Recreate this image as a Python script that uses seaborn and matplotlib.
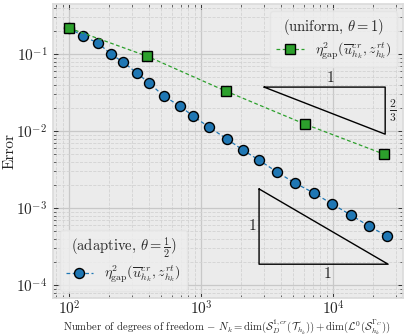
import numpy as np
import pandas as pd
import matplotlib
matplotlib.use("Agg")
import matplotlib.pyplot as plt
import seaborn as sns
from matplotlib.lines import Line2D

# ---- data ----
uniform_dofs = [100, 390, 1545, 6140, 24300]
uniform_err = [0.218, 0.094, 0.033, 0.0123, 0.00502]

adaptive_dofs = [100, 128, 166, 208, 257, 327, 404, 524, 693, 870, 1150, 1574,
                 2080, 2750, 3765, 5154, 7178, 9830, 13690, 18740, 25660]
adaptive_err = [0.218, 0.171, 0.139, 0.100, 0.0787, 0.0567, 0.0420, 0.0285,
                0.0211, 0.01567, 0.01127, 0.00787, 0.00567, 0.00420, 0.00294,
                0.00211, 0.00157, 0.00113, 0.000811, 0.000583, 0.000432]

# slope triangles (annotation guides)
tri_upper_x = [3000, 24800]
tri_upper_ytop = 0.0373
tri_upper_slope = 2 / 3
tri_lower_x = [2750, 26100]
tri_lower_ybot = 1.87e-4
tri_lower_slope = 1

sns.set_theme(style="darkgrid")
plt.rcParams.update({
    "font.family": ["cmr10", "DejaVu Serif"],
    "mathtext.fontset": "cm",
    "axes.unicode_minus": False,
    "axes.formatter.use_mathtext": True,
    "axes.facecolor": "#ebebeb",
    "axes.edgecolor": "#dcdcdc",
    "figure.facecolor": "white",
})

fig = plt.figure(figsize=(4.08, 3.36), dpi=100)
ax = fig.add_axes([0.130, 0.113, 0.858, 0.875])

df_u = pd.DataFrame({"N": uniform_dofs, "err": uniform_err})
df_a = pd.DataFrame({"N": adaptive_dofs, "err": adaptive_err})

blue = "#1f77b4"
green = "#2ca02c"
ms = 7.2
dash = (0, (3, 2))

sns.lineplot(data=df_a, x="N", y="err", ax=ax, sort=False, color=blue,
             linestyle=dash, linewidth=0.9, marker="o", markersize=ms,
             markeredgecolor="black", markeredgewidth=1.0, zorder=3)
sns.lineplot(data=df_u, x="N", y="err", ax=ax, sort=False, color=green,
             linestyle=dash, linewidth=0.9, marker="s", markersize=ms,
             markeredgecolor="black", markeredgewidth=1.0, zorder=4)

ax.set_xscale("log")
ax.set_yscale("log")
ax.set_xlim(75.7, 33900)
ax.set_ylim(6.8e-5, 0.447)

ax.grid(which="major", color="#c8c8c8", linestyle="-", linewidth=0.9)
ax.grid(which="minor", color="#d2d2d2", linestyle="--", linewidth=0.6)
ax.minorticks_on()
ax.tick_params(which="both", direction="in", top=True, right=True,
               bottom=True, left=True, color="#333333")
ax.tick_params(which="major", length=3.5, width=0.7, labelsize=11)
ax.tick_params(axis="x", which="major", pad=1.0)
ax.tick_params(axis="y", which="major", pad=4)
ax.tick_params(which="minor", length=2, width=0.5)

# slope triangles
x0, x1 = tri_upper_x
ybot = tri_upper_ytop * (x0 / x1) ** tri_upper_slope
ax.plot([x0, x1, x1, x0], [tri_upper_ytop, tri_upper_ytop, ybot, tri_upper_ytop],
        color="black", linewidth=1.0, zorder=2)
ax.text(np.sqrt(x0 * x1) * 1.1, tri_upper_ytop * 1.08, "1", ha="center", va="bottom", fontsize=11)
ax.text(x1 * 1.06, np.sqrt(tri_upper_ytop * ybot), r"$\frac{2}{3}$", ha="left", va="center", fontsize=12)

x0, x1 = tri_lower_x
ytop = tri_lower_ybot * (x1 / x0) ** tri_lower_slope
ax.plot([x0, x0, x1, x0], [ytop, tri_lower_ybot, tri_lower_ybot, ytop],
        color="black", linewidth=1.0, zorder=2)
ax.text(x0 * 0.95, np.sqrt(ytop * tri_lower_ybot), "1", ha="right", va="center", fontsize=11)
ax.text(np.sqrt(x0 * x1) * 1.07, tri_lower_ybot * 0.9, "1", ha="center", va="top", fontsize=11)

ax.set_ylabel("Error", fontsize=11, va="center")
ax.yaxis.set_label_coords(-0.123, 0.5)
ax.set_xlabel(r"Number of degrees of freedom $-$ $N_k = \dim(\mathcal{S}^{1,cr}_D(\mathcal{T}_{h_k}))"
              r" + \dim(\mathcal{L}^0(\mathcal{S}^{\Gamma_C}_{h_k}))$", fontsize=7.7, va="center")
ax.xaxis.set_label_coords(0.495, -0.099)

lab = r"$\eta^2_{\mathrm{gap}}(\overline{u}^{cr}_{h_k}, z^{rt}_{h_k})$"
h_u = Line2D([], [], color=green, linestyle=dash, linewidth=0.9, marker="s",
             markersize=ms, markeredgecolor="black", markeredgewidth=1.0)
h_a = Line2D([], [], color=blue, linestyle=dash, linewidth=0.9, marker="o",
             markersize=ms, markeredgecolor="black", markeredgewidth=1.0)

common = dict(fontsize=10, title_fontsize=10.5, frameon=True, facecolor="#eeeeee",
              edgecolor="#e4e4e4", framealpha=0.8, handlelength=2.0,
              borderpad=0.4, labelspacing=0.3, handletextpad=0.8, borderaxespad=0.0)
leg1 = ax.legend([h_u], [lab], title=r"(uniform, $\theta = 1$)",
                 loc="upper right", bbox_to_anchor=(0.983, 0.976), **common)
ax.add_artist(leg1)
ax.legend([h_a], [lab], title=r"(adaptive, $\theta = \frac{1}{2}$)",
          loc="lower left", bbox_to_anchor=(0.02, 0.024), **common)

fig.savefig("out.png", dpi=100)
